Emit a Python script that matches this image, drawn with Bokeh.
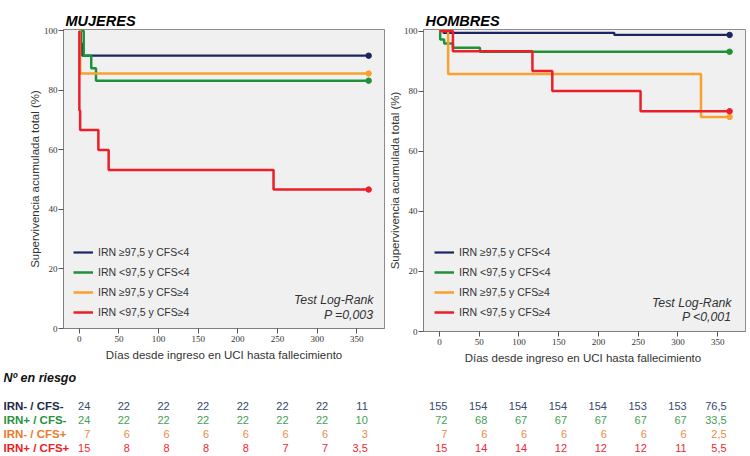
from bokeh.plotting import figure
from bokeh.models import Range1d, Legend, LegendItem, Label, FixedTicker, ColumnDataSource
from bokeh.layouts import row, column
from bokeh.embed import file_html
from bokeh.resources import INLINE
from bokeh.core.properties import value

FONT = "Liberation Sans"
NARROW = "Liberation Sans Narrow"

# ---------------- data ----------------
x_ticks = [0, 50, 100, 150, 200, 250, 300, 350]
y_ticks = [0, 20, 40, 60, 80, 100]

group_labels = ["IRN \u226597,5 y CFS<4", "IRN <97,5 y CFS<4",
                "IRN \u226597,5 y CFS\u22654", "IRN <97,5 y CFS\u22654"]
group_colors = ["#1b2560", "#1f9139", "#f8a12e", "#ec1e2a"]

# MUJERES (days, cumulative survival %)
muj_navy_t = [0, 2, 3.5, 365]
muj_navy_s = [100, 95.8, 91.7, 91.7]
muj_green_t = [0, 5.5, 15, 21, 365]
muj_green_s = [100, 91.7, 87.5, 83.3, 83.3]
muj_orange_t = [0, 1, 365]
muj_orange_s = [100, 85.7, 85.7]
muj_red_t = [0, 0, 1, 24, 37, 245, 365]
muj_red_s = [100, 73.3, 66.7, 60.0, 53.3, 46.7, 46.7]

# HOMBRES
hom_navy_t = [0, 5, 220, 365]
hom_navy_s = [100, 99.4, 98.7, 98.7]
hom_green_t = [0, 1, 6, 17, 51, 365]
hom_green_s = [100, 97.2, 95.8, 94.4, 93.1, 93.1]
hom_orange_t = [0, 11, 329, 365]
hom_orange_s = [100, 85.7, 71.4, 71.4]
hom_red_t = [0, 17, 117, 142, 253, 365]
hom_red_s = [100, 93.3, 86.7, 80.0, 73.3, 73.3]

# Numbers at risk
risk_title = "N\u00ba en riesgo"
risk_row_labels = ["IRN- / CFS-", "IRN+ / CFS-", "IRN- / CFS+", "IRN+ / CFS+"]
risk_label_colors = ["#1c2a4c", "#2a9140", "#ea7a2c", "#ee1c25"]
risk_num_colors = ["#34476e", "#45a055", "#ec8a48", "#f0282e"]
muj_risk = [
    ["24", "22", "22", "22", "22", "22", "22", "11"],
    ["24", "22", "22", "22", "22", "22", "22", "10"],
    ["7", "6", "6", "6", "6", "6", "6", "3"],
    ["15", "8", "8", "8", "8", "7", "7", "3,5"],
]
hom_risk = [
    ["155", "154", "154", "154", "154", "153", "153", "76,5"],
    ["72", "68", "67", "67", "67", "67", "67", "33,5"],
    ["7", "6", "6", "6", "6", "6", "6", "2,5"],
    ["15", "14", "14", "12", "12", "12", "11", "5,5"],
]

X0, X1 = -20, 385


def make_plot(title, curves, width, height, bl, br, bt, bb, legend_loc,
              lr_xoff, lr_ys, p_text, xlabel):
    p = figure(width=width, height=height, x_range=Range1d(X0, X1),
               y_range=Range1d(0, 100.5), output_backend="svg",
               toolbar_location=None, min_border_left=bl, min_border_right=br,
               min_border_top=bt, min_border_bottom=bb)
    p.background_fill_color = "#f0f0f0"
    p.border_fill_color = "white"
    p.outline_line_color = "#8c8c8c"
    p.grid.visible = False

    p.title.text = title
    p.title.text_font = FONT
    p.title.text_font_size = "14.5px"
    p.title.text_font_style = "bold italic"
    p.title.text_color = "black"
    p.title.align = "left"
    p.title.vertical_align = "middle"
    p.title.offset = 2
    p.title.standoff = 0

    p.xaxis.ticker = FixedTicker(ticks=x_ticks)
    p.yaxis.ticker = FixedTicker(ticks=y_ticks)
    p.axis.major_tick_out = 5
    p.axis.major_tick_in = 0
    p.axis.minor_tick_out = 0
    p.axis.minor_tick_in = 0
    p.axis.axis_line_color = "#7f7f7f"
    p.axis.major_tick_line_color = "#555555"
    p.axis.major_label_text_font = NARROW
    p.axis.major_label_text_font_size = "9px"
    p.axis.major_label_text_color = "#333333"
    p.xaxis.major_label_standoff = 2
    p.yaxis.major_label_standoff = 1
    p.xaxis.axis_label = xlabel
    p.yaxis.axis_label = "Supervivencia acumulada total (%)"
    p.axis.axis_label_text_font = FONT
    p.axis.axis_label_text_font_size = "11.5px"
    p.axis.axis_label_text_font_style = "normal"
    p.axis.axis_label_text_color = "#333333"
    p.yaxis.axis_label_standoff = 0
    p.xaxis.axis_label_standoff = 4

    items = []
    for (t, s), c, lbl in zip(curves, group_colors, group_labels):
        lw = 2.2 if c == group_colors[0] else 2.5
        r = p.step(t, s, mode="after", line_color=c, line_width=lw)
        p.scatter([t[-1]], [s[-1]], size=5.5, color=c)
        items.append(LegendItem(label=lbl, renderers=[r]))

    leg = Legend(items=items, location=legend_loc, glyph_width=20,
                 glyph_height=20, label_height=20, spacing=0, padding=0,
                 margin=0, border_line_color=None, background_fill_alpha=0,
                 label_text_font=FONT, label_text_font_size="10.5px",
                 label_text_color="#333333", label_standoff=5)
    p.add_layout(leg)

    for txt, yy in zip(["Test Log-Rank", p_text], lr_ys):
        p.add_layout(Label(x=X1, y=yy, x_offset=lr_xoff, text=txt,
                           text_align="right", text_baseline="middle",
                           text_font=FONT, text_font_size="12.3px",
                           text_font_style="italic", text_color="#333333"))
    return p


TABLE_H = 88
ROW_Y0 = 37
ROW_DY = 14


def make_table(width, x_range, bl, br, risk, x_offset, with_labels):
    t = figure(width=width, height=TABLE_H, x_range=x_range,
               y_range=Range1d(TABLE_H, 0), output_backend="svg",
               toolbar_location=None, min_border_left=bl, min_border_right=br,
               min_border_top=0, min_border_bottom=0,
               x_axis_location=None, y_axis_location=None)
    t.outline_line_color = None
    t.grid.visible = False
    t.background_fill_color = None
    t.border_fill_color = "white"

    xs, ys, txt, cols = [], [], [], []
    for i, r in enumerate(risk):
        for j, v in enumerate(r):
            xs.append(x_ticks[j])
            ys.append(ROW_Y0 + i * ROW_DY)
            txt.append(v)
            cols.append(risk_num_colors[i])
    src = ColumnDataSource(dict(x=xs, y=ys, text=txt, color=cols))
    t.text(x="x", y="y", text="text", text_color="color", source=src,
           text_align="right", text_baseline="middle", x_offset=x_offset,
           text_font=value(FONT), text_font_size="11px")

    if with_labels:
        x_start = x_range.start
        lsrc = ColumnDataSource(dict(
            x=[x_start] * len(risk_row_labels),
            y=[ROW_Y0 + i * ROW_DY for i in range(len(risk_row_labels))],
            text=risk_row_labels, color=risk_label_colors))
        t.text(x="x", y="y", text="text", text_color="color", source=lsrc,
               text_align="left", text_baseline="middle",
               text_font=value(FONT), text_font_size="11.5px",
               text_font_style="bold")
        t.text(x=[x_start], y=[9], text=[risk_title], text_color="#111111",
               text_align="left", text_baseline="middle",
               text_font=value(FONT), text_font_size="12.5px",
               text_font_style="bold italic")
    return t


# geometry (pixels)
LW, LBL, LBR = 385, 63, 1
RW, RBL, RBR = 365, 37, 5
TOP, BOTTOM = 29, 37

muj_curves = [(muj_navy_t, muj_navy_s), (muj_green_t, muj_green_s),
              (muj_orange_t, muj_orange_s), (muj_red_t, muj_red_s)]
hom_curves = [(hom_navy_t, hom_navy_s), (hom_green_t, hom_green_s),
              (hom_orange_t, hom_orange_s), (hom_red_t, hom_red_s)]

pl = make_plot("MUJERES", muj_curves, LW, TOP + 299 + BOTTOM, LBL, LBR, TOP,
               BOTTOM, (10, 6), -11, [9.7, 4.6], "P =0,003",
               "D\u00edas desde ingreso en UCI hasta fallecimiento")
pr = make_plot("HOMBRES", hom_curves, RW, TOP + 302 + BOTTOM, RBL, RBR, TOP,
               BOTTOM, (11, 9), -14, [9.5, 4.7], "P <0,001",
               "D\u00edas desde ingreso en  UCI hasta fallecimiento")

# left table uses the left plot's scale, its frame extended toward the page edge
TBL = 3
frame_w = LW - LBL - LBR
k = (X1 - X0) / frame_w
tl_range = Range1d(X0 - (LBL - TBL) * k, X1)
tl = make_table(LW, tl_range, TBL, LBR, muj_risk, 11, True)
tr = make_table(RW, pr.x_range, RBL, RBR, hom_risk, 9, False)

layout = column(row(pl, pr), row(tl, tr))

open("out.html", "w").write(file_html(layout, INLINE))
